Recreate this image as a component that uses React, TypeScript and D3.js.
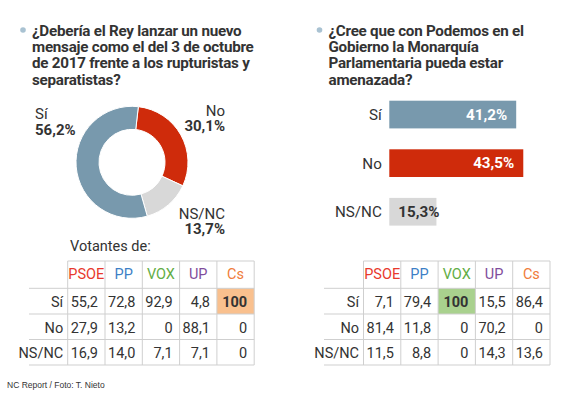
import React from "react";
import * as d3 from "d3";

const donutCategories = ["No", "NS/NC", "Sí"];
const donutValues = [30.1, 13.7, 56.2];
const donutColors = ["#cf2b0b", "#d8d8d8", "#7899ad"];

const barCategories = ["Sí", "No", "NS/NC"];
const barValues = [41.2, 43.5, 15.3];
const barColors = ["#7899ad", "#cf2b0b", "#d8d8d8"];

const parties = ["PSOE", "PP", "VOX", "UP", "Cs"];
const partyColors = ["#e8392c", "#3d7fc6", "#62ad45", "#7f4c9c", "#f07c3a"];
const rowLabels = ["Sí", "No", "NS/NC"];

const table1Si = [55.2, 72.8, 92.9, 4.8, 100];
const table1No = [27.9, 13.2, 0, 88.1, 0];
const table1Ns = [16.9, 14.0, 7.1, 7.1, 0];

const table2Si = [7.1, 79.4, 100, 15.5, 86.4];
const table2No = [81.4, 11.8, 0, 70.2, 0];
const table2Ns = [11.5, 8.8, 0, 14.3, 13.6];

const title1 = [
  "¿Debería el Rey lanzar un nuevo",
  "mensaje como el del 3 de octubre",
  "de 2017 frente a los rupturistas y",
  "separatistas?",
];
const title2 = [
  "¿Cree que con Podemos en el",
  "Gobierno la Monarquía",
  "Parlamentaria pueda estar",
  "amenazada?",
];

const FONT = "'Roboto', sans-serif";
const TXT = "#333333";

const fmtPct = (v: number) => v.toFixed(1).replace(".", ",") + "%";
const fmtCell = (v: number) =>
  v === 0 || v === 100 ? String(v) : v.toFixed(1).replace(".", ",");

function Title({ x, lines }: { x: number; lines: string[] }) {
  return (
    <g>
      <circle cx={x - 9} cy={30} r={2.8} fill="#a9c2d2" />
      {lines.map((l, i) => (
        <text
          key={i}
          x={x}
          y={35.7 + i * 16.3}
          fontFamily={FONT}
          fontWeight="bold"
          fontSize={15.2}
          letterSpacing={-0.25}
          fill={TXT}
        >
          {l}
        </text>
      ))}
    </g>
  );
}

function Table({
  x0,
  labelLeft,
  rows,
  highlight,
  highlightColor,
}: {
  x0: number;
  labelLeft: number;
  rows: number[][];
  highlight: [number, number];
  highlightColor: string;
}) {
  const colW = 37.3;
  const xs = d3
    .scaleBand<string>()
    .domain(parties)
    .range([x0, x0 + colW * parties.length]);
  const rowEdges = [261, 288.3, 314, 339.5, 365];
  const xEnd = x0 + colW * parties.length;
  const lineC = "#cfcfcf";
  return (
    <g fontFamily={FONT} fontSize={14.5}>
      <rect
        x={xs(parties[highlight[1]])}
        y={rowEdges[highlight[0] + 1]}
        width={xs.bandwidth()}
        height={rowEdges[highlight[0] + 2] - rowEdges[highlight[0] + 1]}
        fill={highlightColor}
      />
      <line x1={x0} x2={xEnd} y1={rowEdges[0]} y2={rowEdges[0]} stroke={lineC} />
      {rowEdges.slice(1).map((y, i) => (
        <line key={i} x1={labelLeft} x2={xEnd} y1={y} y2={y} stroke={lineC} />
      ))}
      {d3.range(parties.length + 1).map((i) => (
        <line
          key={i}
          x1={x0 + i * colW}
          x2={x0 + i * colW}
          y1={rowEdges[0]}
          y2={rowEdges[4]}
          stroke={lineC}
        />
      ))}
      {parties.map((p, i) => (
        <text
          key={p}
          x={(xs(p) as number) + xs.bandwidth() / 2}
          y={279}
          textAnchor="middle"
          fill={partyColors[i]}
        >
          {p}
        </text>
      ))}
      {rowLabels.map((r, ri) => (
        <g key={r}>
          <text
            x={x0 - 4.5}
            y={rowEdges[ri + 1] + 18.5}
            textAnchor="end"
            fill={TXT}
          >
            {r}
          </text>
          {rows[ri].map((v, ci) => (
            <text
              key={ci}
              x={(xs(parties[ci]) as number) + xs.bandwidth() - 7}
              y={rowEdges[ri + 1] + 18.5}
              textAnchor="end"
              fill={TXT}
              fontWeight={ri === highlight[0] && ci === highlight[1] ? "bold" : "normal"}
            >
              {fmtCell(v)}
            </text>
          ))}
        </g>
      ))}
    </g>
  );
}

export default function App() {
  const cx = 132,
    cy = 162.3;
  const start = (6.5 * Math.PI) / 180;
  const pie = d3
    .pie<number>()
    .sort(null)
    .startAngle(start)
    .endAngle(start + 2 * Math.PI);
  const arcs = pie(donutValues);
  const arc = d3.arc<d3.PieArcDatum<number>>().innerRadius(33).outerRadius(56);

  const xBar = d3.scaleLinear().domain([0, 100]).range([389.3, 389.3 + 308]);
  const yBar = d3
    .scaleBand<string>()
    .domain(barCategories)
    .range([100.7, 225.6])
    .paddingInner(0.43);

  return (
    <div style={{ position: "absolute", left: 0, top: 0 }}>
      <svg width={580} height={397} style={{ display: "block", background: "#fff" }}>
        <Title x={32} lines={title1} />
        <Title x={328.5} lines={title2} />

        {/* Donut */}
        <g transform={`translate(${cx},${cy})`}>
          {arcs.map((a, i) => (
            <path key={i} d={arc(a) as string} fill={donutColors[i]} stroke="#fff" strokeWidth={1} />
          ))}
        </g>
        <g fontFamily={FONT} fontSize={15} fill={TXT}>
          <text x={35} y={119}>{donutCategories[2]}</text>
          <text x={35} y={135} fontWeight="bold">{fmtPct(donutValues[2])}</text>
          <text x={225} y={115.5} textAnchor="end">{donutCategories[0]}</text>
          <text x={225} y={130.5} textAnchor="end" fontWeight="bold">{fmtPct(donutValues[0])}</text>
          <text x={225} y={219} textAnchor="end">{donutCategories[1]}</text>
          <text x={225} y={234} textAnchor="end" fontWeight="bold">{fmtPct(donutValues[1])}</text>
        </g>

        {/* Bars */}
        <g fontFamily={FONT} fontSize={15.2}>
          {barCategories.map((c, i) => {
            const y = yBar(c) as number;
            const w = xBar(barValues[i]) - xBar(0);
            const inside = w > 60;
            return (
              <g key={c}>
                <rect x={xBar(0)} y={y} width={w} height={yBar.bandwidth()} fill={barColors[i]} />
                <text x={xBar(0) - 7.5} y={y + yBar.bandwidth() / 2 + 5.5} textAnchor="end" fill={TXT}>
                  {c}
                </text>
                <text
                  x={inside ? xBar(barValues[i]) - 9 : xBar(0) + 9}
                  y={y + yBar.bandwidth() / 2 + 5}
                  textAnchor={inside ? "end" : "start"}
                  fill={inside ? "#fff" : TXT}
                  fontWeight="bold"
                >
                  {fmtPct(barValues[i])}
                </text>
              </g>
            );
          })}
        </g>

        <text x={70} y={251} fontFamily={FONT} fontSize={14.5} fill={TXT}>
          Votantes de:
        </text>

        <Table
          x0={67.7}
          labelLeft={29}
          rows={[table1Si, table1No, table1Ns]}
          highlight={[0, 4]}
          highlightColor="#f9c08e"
        />
        <Table
          x0={363.5}
          labelLeft={324}
          rows={[table2Si, table2No, table2Ns]}
          highlight={[0, 2]}
          highlightColor="#a9d18e"
        />

        <text x={7} y={388} fontFamily="'Liberation Sans', Arial, sans-serif" fontSize={8.5} fill={TXT}>
          NC Report / Foto: T. Nieto
        </text>
      </svg>
    </div>
  );
}
